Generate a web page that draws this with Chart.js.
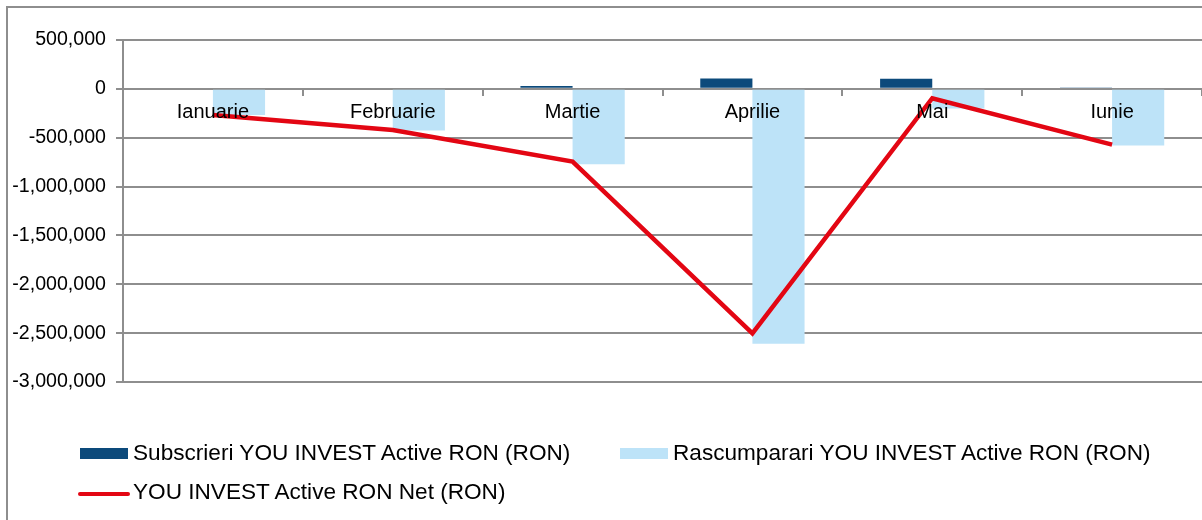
<!DOCTYPE html>
<html>
<head>
<meta charset="utf-8">
<title>YOU INVEST Active RON</title>
<script src="https://cdn.jsdelivr.net/npm/chart.js@4.4.0/dist/chart.umd.min.js"></script>
<style>
	body { margin: 0; background: #fff; overflow: hidden; font-family: 'Liberation Sans', Arial, sans-serif; }
	#wrap { position: relative; width: 1202px; height: 520px; }
	#frame { position: absolute; left: 6px; top: 6px; width: 1300px; height: 600px; border-left: 2px solid #8e8e8e; border-top: 2px solid #8e8e8e; }
	#legend { position: absolute; left: 0; top: 0; }
	.item { position: absolute; white-space: nowrap; font-size: 22.6px; line-height: 24px; color: #000; }
	.item .sw { position: absolute; left: -53px; }
	.item-0 { left: 133px; top: 441px; }
	.item-1 { left: 673px; top: 441px; }
	.item-2 { left: 133px; top: 480px; }
	.bar .sw { top: 7px; width: 48px; height: 11px; }
	.line .sw { top: 12px; left: -55px; width: 52px; height: 4px; border-radius: 2px; }
</style>
</head>
<body>
<div id="wrap">
	<div id="frame"></div>
	<canvas id="myChart" width="1202" height="520"></canvas>
	<div id="legend"></div>
</div>
<script>
// data (RON)
var months = ['Ianuarie', 'Februarie', 'Martie', 'Aprilie', 'Mai', 'Iunie'];
var subscrieri = [0, 0, 28000, 106000, 104000, 10000];
var rascumparari = [-268000, -425000, -772000, -2609000, -200000, -580000];
var net = [-268000, -422000, -744000, -2503000, -96000, -570000];
var seriesNames = [
	'Subscrieri YOU INVEST Active RON (RON)',
	'Rascumparari YOU INVEST Active RON (RON)',
	'YOU INVEST Active RON Net (RON)'
];
var yMin = -3000000;
var yMax = 500000;
var yStep = 500000;

var gridGray = '#8e8e8e';
Chart.defaults.font.family = "'Liberation Sans', Arial, sans-serif";
Chart.defaults.color = '#000';

var ctx = document.getElementById('myChart').getContext('2d');
var chart = new Chart(ctx, {
	type: 'bar',
	data: {
		labels: months,
		datasets: [{
			label: seriesNames[0],
			data: subscrieri,
			backgroundColor: '#0c4a7b',
			barPercentage: 1,
			categoryPercentage: 0.58,
			order: 2
		}, {
			label: seriesNames[1],
			data: rascumparari,
			backgroundColor: '#bde3f8',
			barPercentage: 1,
			categoryPercentage: 0.58,
			order: 2
		}, {
			type: 'line',
			label: seriesNames[2],
			data: net,
			borderColor: '#e30613',
			borderWidth: 4.5,
			pointRadius: 0,
			tension: 0,
			fill: false,
			order: 1
		}]
	},
	options: {
		responsive: false,
		animation: false,
		layout: {
			padding: { left: 0, top: 40, right: -3, bottom: 138 }
		},
		plugins: {
			legend: { display: false },
			tooltip: { enabled: false }
		},
		scales: {
			x: {
				position: { y: 0 },
				grid: {
					drawOnChartArea: false,
					drawTicks: true,
					tickLength: 6,
					color: gridGray,
					lineWidth: 2,
					offset: true
				},
				border: { color: gridGray, width: 2 },
				ticks: {
					z: 1,
					font: { size: 20 },
					padding: 6,
					maxRotation: 0
				}
			},
			y: {
				min: yMin,
				max: yMax,
				afterFit: function (scale) { scale.width = 123; },
				grid: {
					color: gridGray,
					lineWidth: 2,
					tickLength: 7
				},
				border: { color: gridGray, width: 2 },
				ticks: {
					stepSize: yStep,
					padding: 10,
					font: { size: 19.6 },
					callback: function (v) { return v.toLocaleString('en-US'); }
				}
			}
		}
	}
});

// legend as html, built from the datasets
var legend = document.getElementById('legend');
chart.data.datasets.forEach(function (ds, i) {
	var item = document.createElement('div');
	var isLine = ds.type === 'line';
	item.className = 'item item-' + i + (isLine ? ' line' : ' bar');
	var sw = document.createElement('span');
	sw.className = 'sw';
	sw.style.background = isLine ? ds.borderColor : ds.backgroundColor;
	item.appendChild(sw);
	item.appendChild(document.createTextNode(ds.label));
	legend.appendChild(item);
});
</script>
</body>
</html>
